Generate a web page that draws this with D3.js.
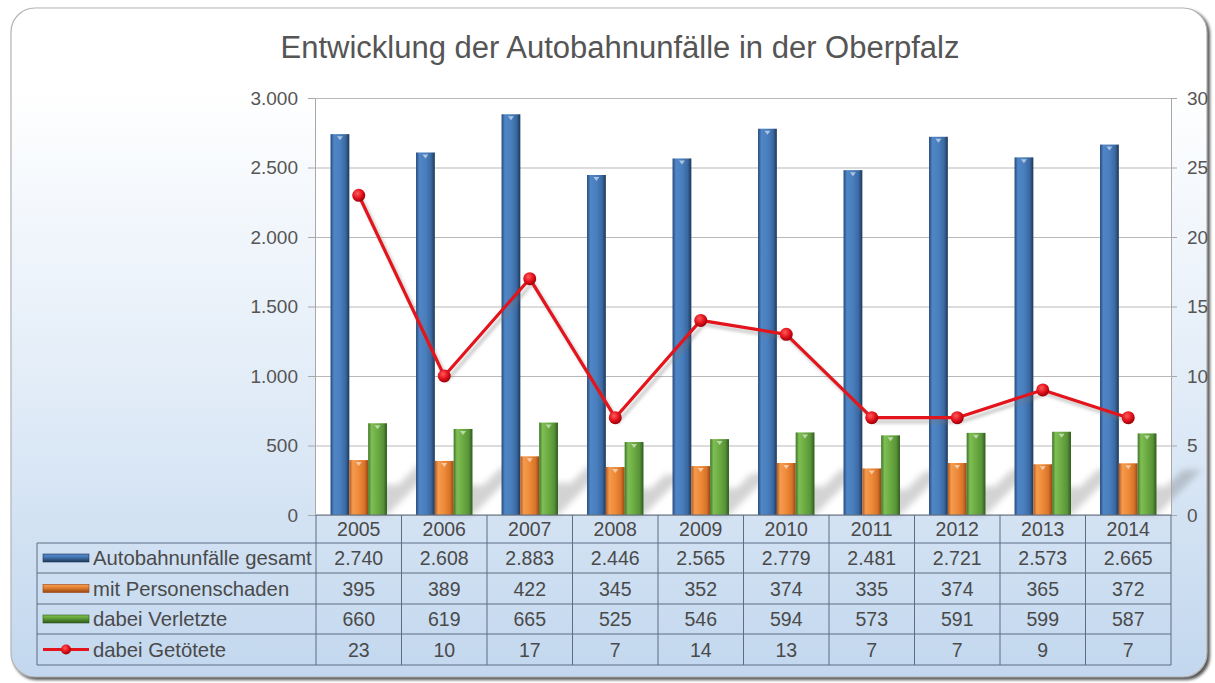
<!DOCTYPE html>
<html>
<head>
<meta charset="utf-8">
<script src="https://cdn.jsdelivr.net/npm/d3@7"></script>
<style>
  html, body { margin: 0; padding: 0; background: #ffffff; }
  svg { display: block; font-family: "Liberation Sans", Arial, sans-serif; }
</style>
</head>
<body>
<svg id="chart" width="1215" height="683"></svg>
<script>
// ---------- data ----------
const years = ["2005", "2006", "2007", "2008", "2009", "2010", "2011", "2012", "2013", "2014"];
const totalAccidents = [2740, 2608, 2883, 2446, 2565, 2779, 2481, 2721, 2573, 2665];
const withInjury = [395, 389, 422, 345, 352, 374, 335, 374, 365, 372];
const injured = [660, 619, 665, 525, 546, 594, 573, 591, 599, 587];
const killed = [23, 10, 17, 7, 14, 13, 7, 7, 9, 7];
const seriesNames = ["Autobahnunfälle gesamt", "mit Personenschaden", "dabei Verletzte", "dabei Getötete"];
const leftTicks = [0, 500, 1000, 1500, 2000, 2500, 3000];
const rightTicks = [0, 5, 10, 15, 20, 25, 30];
const title = "Entwicklung der Autobahnunfälle in der Oberpfalz";

// ---------- setup ----------
const de = d3.formatLocale({ decimal: ",", thousands: ".", grouping: [3], currency: ["", " €"] });
const fmt = de.format(",");
const svg = d3.select("#chart");
const defs = svg.append("defs");

const plot = { left: 316, right: 1171, top: 98, bottom: 515 };
const rowYs = [515, 543, 573, 604, 634, 665];
const tableLeft = 37;

// panel gradient
const bg = defs.append("linearGradient").attr("id", "bg").attr("x1", 0).attr("y1", 0).attr("x2", 0).attr("y2", 1);
bg.append("stop").attr("offset", "0").attr("stop-color", "#ffffff");
bg.append("stop").attr("offset", "0.12").attr("stop-color", "#ffffff");
bg.append("stop").attr("offset", "0.55").attr("stop-color", "#e3edf8");
bg.append("stop").attr("offset", "1").attr("stop-color", "#c2d7ee");

const blur = defs.append("filter").attr("id", "blur").attr("x", "-50%").attr("y", "-50%").attr("width", "200%").attr("height", "200%");
blur.append("feGaussianBlur").attr("stdDeviation", 3);
const blurSmall = defs.append("filter").attr("id", "blurSmall").attr("x", "-20%").attr("y", "-20%").attr("width", "140%").attr("height", "140%");
blurSmall.append("feGaussianBlur").attr("stdDeviation", 1.5);

// bar gradients
const barColors = [
  ["#27497a", "#4f86c6", "#4a7fbe", "#3a69a2", "#1d3757"],
  ["#b5561c", "#f49b4e", "#ee8a38", "#d8742a", "#9a4511"],
  ["#3b7526", "#80be55", "#6aab40", "#59933a", "#2d5a1b"]
];
barColors.forEach((c, i) => {
  const g = defs.append("linearGradient").attr("id", "bar" + i).attr("x1", 0).attr("y1", 0).attr("x2", 1).attr("y2", 0);
  [0, 0.18, 0.5, 0.8, 1].forEach((o, k) => g.append("stop").attr("offset", o).attr("stop-color", c[k]));
});
const dot = defs.append("radialGradient").attr("id", "dot").attr("cx", "0.4").attr("cy", "0.35").attr("r", "0.65");
dot.append("stop").attr("offset", "0").attr("stop-color", "#ff5a5a");
dot.append("stop").attr("offset", "0.6").attr("stop-color", "#e0101a");
dot.append("stop").attr("offset", "1").attr("stop-color", "#9a0008");

// ---------- panel ----------
svg.append("rect").attr("x", 13).attr("y", 10).attr("width", 1197).attr("height", 670).attr("rx", 24)
  .attr("fill", "#555").attr("filter", "url(#blurSmall)");
svg.append("rect").attr("x", 11).attr("y", 8).attr("width", 1196).attr("height", 669).attr("rx", 24)
  .attr("fill", "url(#bg)").attr("stroke", "#b4b4b4").attr("stroke-width", 1.2);

// title
svg.append("text").attr("x", 620).attr("y", 58).attr("text-anchor", "middle")
  .attr("font-size", 31).attr("fill", "#555").text(title);

// ---------- scales ----------
const x = d3.scaleBand().domain(years).range([plot.left, plot.right]).padding(0);
const bw = x.bandwidth();
const seriesKeys = [0, 1, 2];
const x1 = d3.scaleBand().domain(seriesKeys).range([bw * 0.17, bw * 0.83]).padding(0);
const y = d3.scaleLinear().domain([0, 3000]).range([plot.bottom, plot.top]);
const y2 = d3.scaleLinear().domain([0, 30]).range([plot.bottom, plot.top]);

// plot area
svg.append("rect").attr("x", plot.left).attr("y", plot.top).attr("width", plot.right - plot.left)
  .attr("height", plot.bottom - plot.top).attr("fill", "#ffffff");

// gridlines
svg.append("g").attr("transform", `translate(${plot.left},0)`)
  .call(d3.axisLeft(y).tickValues(leftTicks).tickSize(-(plot.right - plot.left)).tickFormat(""))
  .call(g => g.select(".domain").remove())
  .call(g => g.selectAll("line").attr("stroke", "#b9b9b9").attr("stroke-width", 1));

// bar shadows
const seriesVals = [totalAccidents, withInjury, injured];
const shadowG = svg.append("g").attr("filter", "url(#blur)").attr("opacity", 0.26);
years.forEach((yr, i) => {
  [1, 2].forEach(s => {
    const x0 = x(yr) + x1(s);
    const x2 = x0 + x1.bandwidth();
    const h = (plot.bottom - y(seriesVals[s][i])) * 0.55;
    const pts = [[x0, plot.bottom], [x2, plot.bottom], [x2 + h, plot.bottom - h], [x0 + h, plot.bottom - h]];
    shadowG.append("polygon").attr("points", pts.map(p => p.join(",")).join(" ")).attr("fill", "#555");
  });
});

// bars
const barsG = svg.append("g");
seriesKeys.forEach(s => {
  barsG.selectAll(null).data(years).enter().append("rect")
    .attr("x", d => x(d) + x1(s))
    .attr("y", (d, i) => y(seriesVals[s][i]))
    .attr("width", x1.bandwidth())
    .attr("height", (d, i) => plot.bottom - y(seriesVals[s][i]))
    .attr("fill", `url(#bar${s})`);
  barsG.selectAll(null).data(years).enter().append("path")
    .attr("d", (d, i) => {
      const cx = x(d) + x1(s) + x1.bandwidth() / 2;
      const ty = y(seriesVals[s][i]) + 2;
      return `M${cx - 3},${ty} L${cx + 3},${ty} L${cx},${ty + 4} Z`;
    })
    .attr("fill", "#ffffff").attr("opacity", 0.55);
});

// line
const line = d3.line().x((d, i) => x(years[i]) + bw / 2).y(d => y2(d));
svg.append("path").datum(killed).attr("d", line).attr("transform", "translate(3,4)")
  .attr("fill", "none").attr("stroke", "#777").attr("stroke-width", 4).attr("opacity", 0.35).attr("filter", "url(#blurSmall)");
svg.append("path").datum(killed).attr("d", line).attr("fill", "none").attr("stroke", "#e3141b").attr("stroke-width", 3.2)
  .attr("stroke-linejoin", "round");
svg.selectAll(null).data(killed).enter().append("circle")
  .attr("cx", (d, i) => x(years[i]) + bw / 2).attr("cy", d => y2(d)).attr("r", 6.5)
  .attr("fill", "url(#dot)");

// axes
const leftAxis = svg.append("g").attr("transform", `translate(${plot.left - 1},0)`)
  .call(d3.axisLeft(y).tickValues(leftTicks).tickFormat(fmt).tickSize(7).tickPadding(10));
const rightAxis = svg.append("g").attr("transform", `translate(${plot.right},0)`)
  .call(d3.axisRight(y2).tickValues(rightTicks).tickSize(6).tickPadding(10));
[leftAxis, rightAxis].forEach(a => {
  a.select(".domain").attr("stroke", "#a8a8a8");
  a.selectAll(".tick line").attr("stroke", "#a8a8a8");
  a.selectAll("text").attr("font-size", 19).attr("fill", "#555").attr("font-family", "Liberation Sans, Arial, sans-serif");
});

// ---------- data table ----------
const table = svg.append("g");
const lineColor = "#5d6d84";
rowYs.forEach((ry, k) => {
  table.append("line").attr("x1", k === 0 ? plot.left : tableLeft).attr("x2", plot.right)
    .attr("y1", ry).attr("y2", ry).attr("stroke", lineColor).attr("stroke-width", k === 0 ? 1.2 : 1);
});
const bounds = years.map(yr => x(yr)).concat([plot.right]);
bounds.forEach(bx => {
  table.append("line").attr("x1", bx).attr("x2", bx).attr("y1", rowYs[0]).attr("y2", rowYs[5])
    .attr("stroke", lineColor).attr("stroke-width", 1);
});
table.append("line").attr("x1", tableLeft).attr("x2", tableLeft).attr("y1", rowYs[1]).attr("y2", rowYs[5])
  .attr("stroke", lineColor).attr("stroke-width", 1);

const txtColor = "#4a4a4a";
const rowMid = k => (rowYs[k] + rowYs[k + 1]) / 2;
table.selectAll(null).data(years).enter().append("text")
  .attr("x", d => x(d) + bw / 2).attr("y", rowMid(0)).attr("dy", "0.36em")
  .attr("text-anchor", "middle").attr("font-size", 19.5).attr("fill", txtColor).text(d => d);
const allSeries = [totalAccidents, withInjury, injured, killed];
allSeries.forEach((vals, s) => {
  table.selectAll(null).data(vals).enter().append("text")
    .attr("x", (d, i) => x(years[i]) + bw / 2).attr("y", rowMid(s + 1)).attr("dy", "0.36em")
    .attr("text-anchor", "middle").attr("font-size", 19.5).attr("fill", txtColor).text(d => fmt(d));
  table.append("text").attr("x", 93).attr("y", rowMid(s + 1)).attr("dy", "0.36em")
    .attr("font-size", 20.3).attr("fill", txtColor).text(seriesNames[s]);
  const cy = rowMid(s + 1);
  if (s < 3) {
    const kg = defs.append("linearGradient").attr("id", "key" + s).attr("x1", 0).attr("y1", 0).attr("x2", 0).attr("y2", 1);
    [0, 0.3, 1].forEach((o, k) => kg.append("stop").attr("offset", o).attr("stop-color", barColors[s][[1, 2, 4][k]]));
    table.append("rect").attr("x", 43).attr("y", cy - 4).attr("width", 46).attr("height", 8)
      .attr("fill", `url(#key${s})`).attr("stroke", barColors[s][4]).attr("stroke-width", 0.6);
  } else {
    table.append("line").attr("x1", 43).attr("x2", 89).attr("y1", cy).attr("y2", cy)
      .attr("stroke", "#e3141b").attr("stroke-width", 3);
    table.append("circle").attr("cx", 66).attr("cy", cy).attr("r", 5).attr("fill", "url(#dot)");
  }
});
</script>
</body>
</html>
